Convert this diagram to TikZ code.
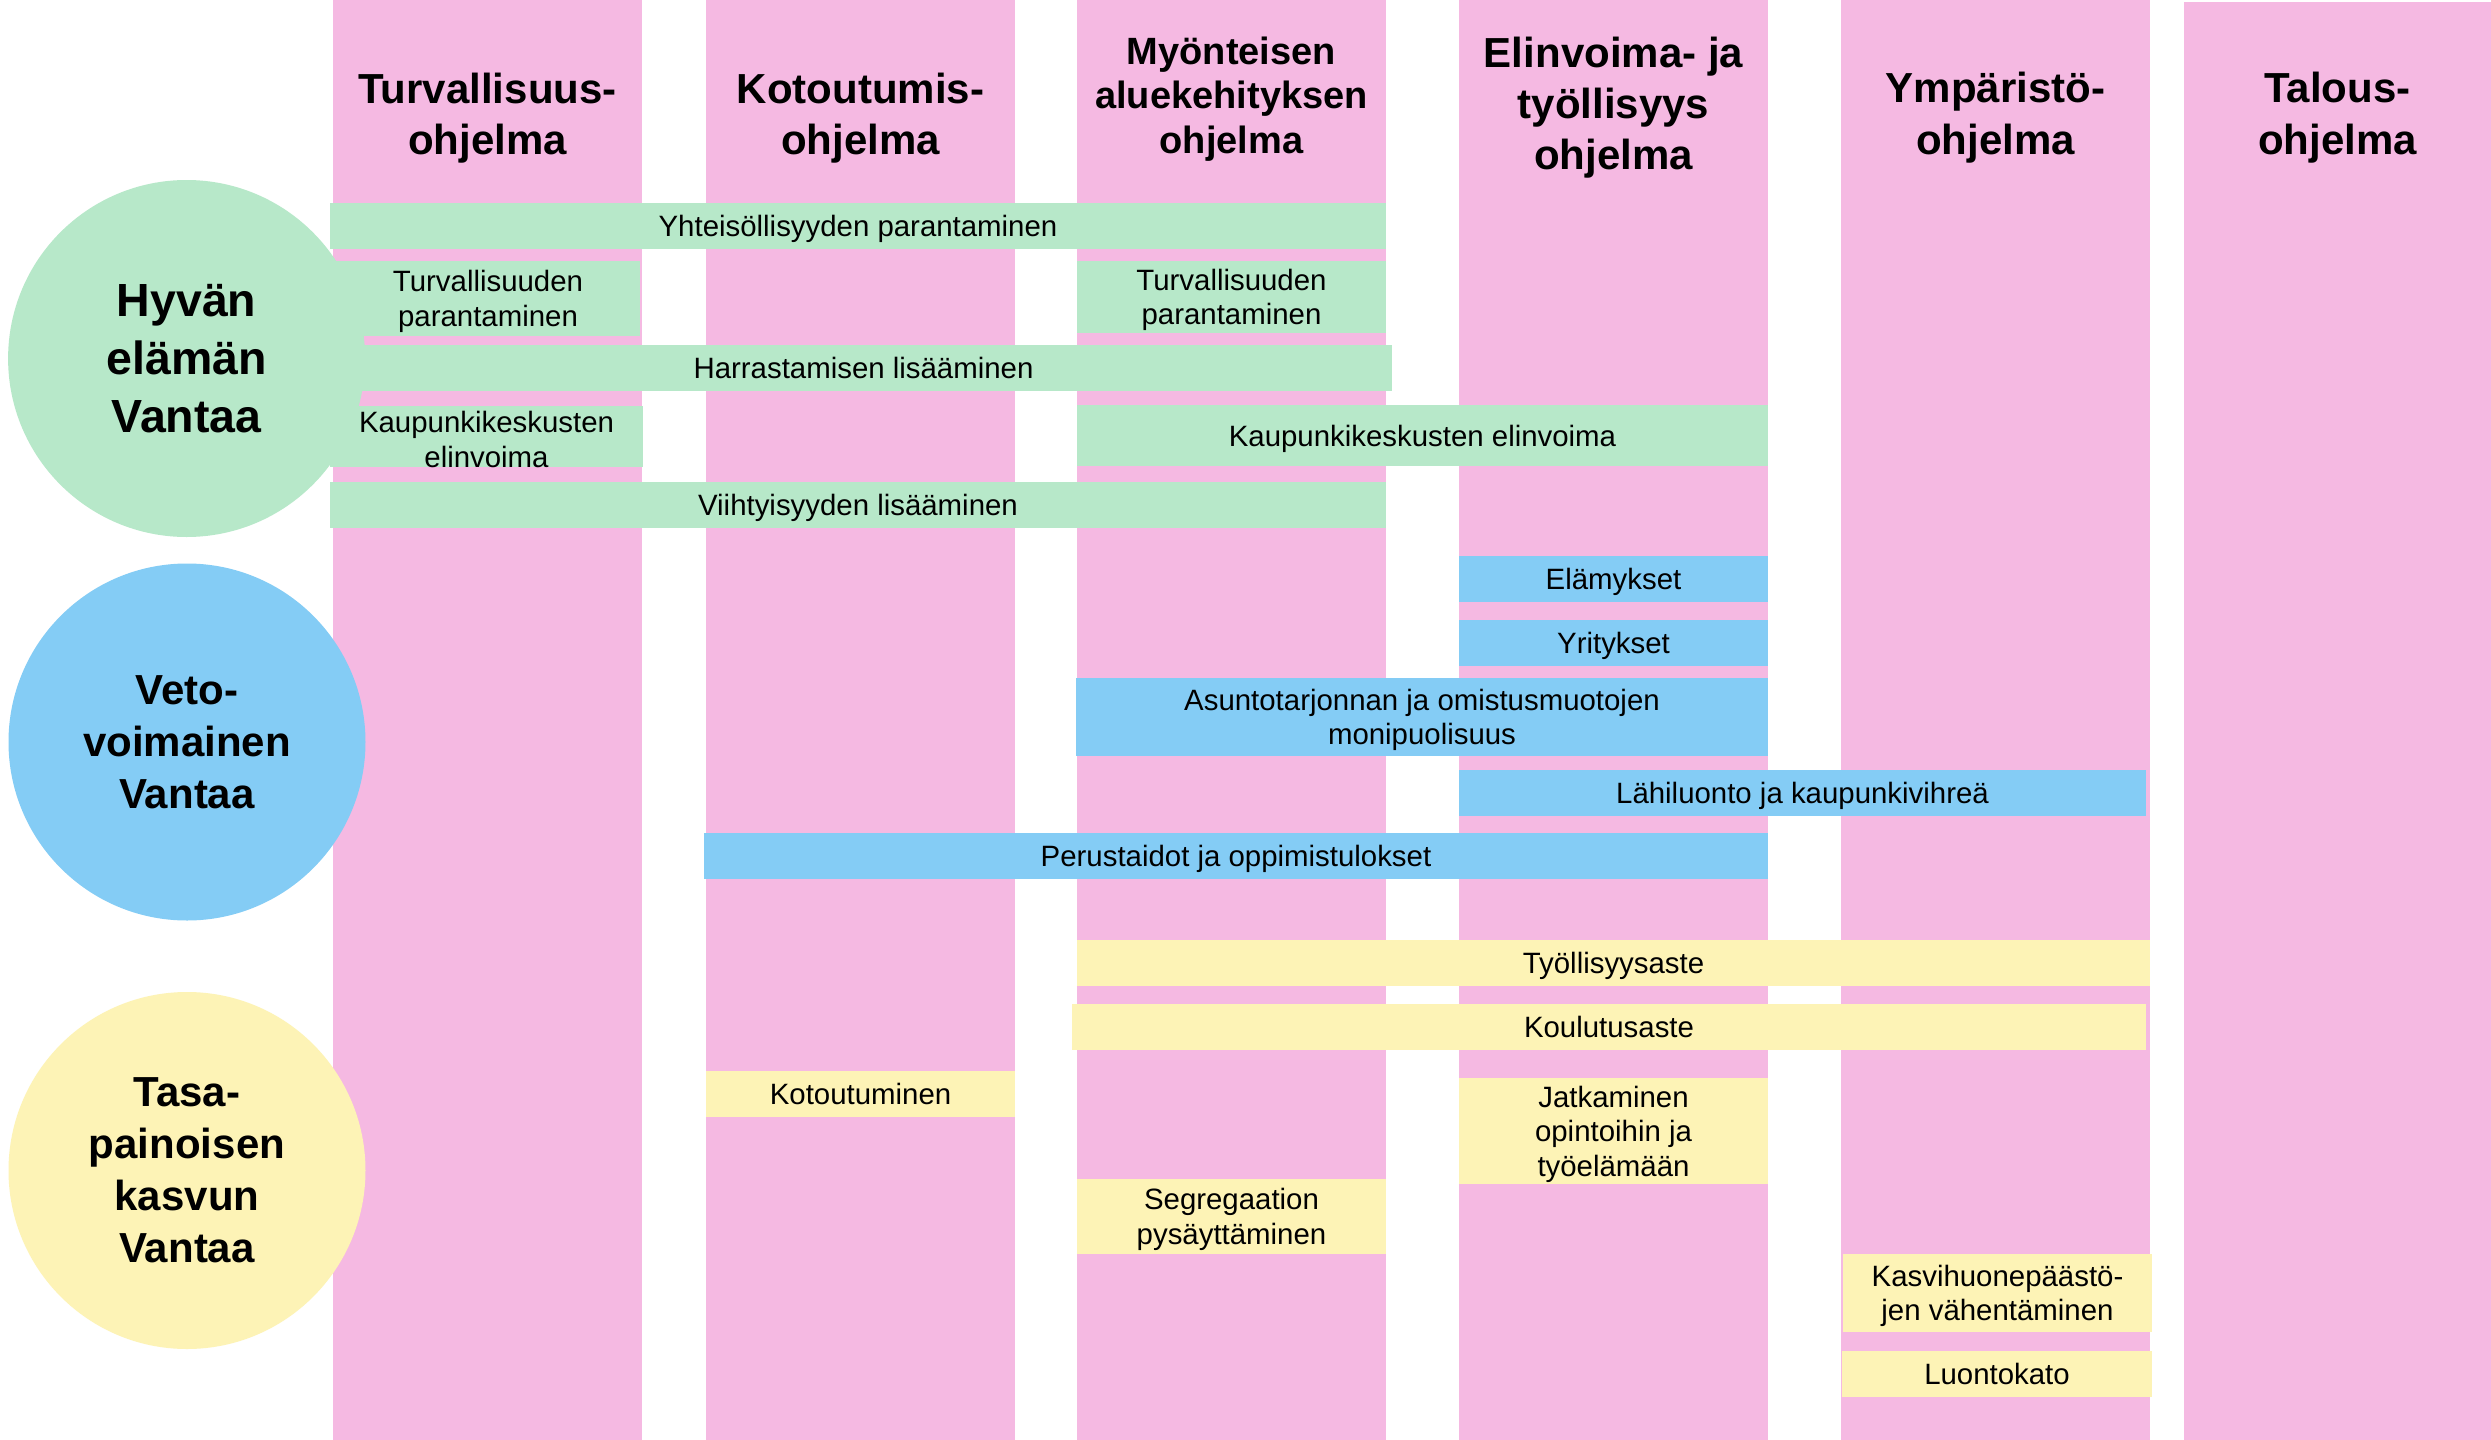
\documentclass[tikz,border=0pt]{standalone}
\usepackage{fontspec}
\setmainfont{Liberation Sans}
\definecolor{pinkc}{RGB}{245,185,226}
\definecolor{greenc}{RGB}{183,232,201}
\definecolor{bluec}{RGB}{132,204,245}
\definecolor{yellowc}{RGB}{253,243,182}
\newcommand{\toplift}{\rule{0pt}{13.6pt}}
\begin{document}
\begin{tikzpicture}[x=0.5pt,y=-0.5pt,
  colbox/.style={fill=pinkc, draw=none, inner sep=0pt, outer sep=0pt, minimum width=154.5pt, minimum height=720pt},
  bar/.style={draw=none, inner sep=0pt, outer sep=0pt, align=center, font=\fontsize{14.7pt}{17.25pt}\selectfont},
  oneline/.style={text height=10.7pt, text depth=0pt},
  gbar/.style={bar, fill=greenc},
  bbar/.style={bar, fill=bluec},
  ybar/.style={bar, fill=yellowc},
  hdr/.style={align=center, inner sep=0pt, font=\fontsize{21pt}{25.75pt}\selectfont\bfseries},
  goal/.style={circle, draw=none, inner sep=0pt, minimum size=178.5pt, align=center, font=\fontsize{21pt}{26pt}\selectfont\bfseries}
]
\useasboundingbox (0,0) rectangle (2491,1440);
\fill[white] (0,0) rectangle (2491,1440);
% columns
\node[colbox] (c1) at (487.5,720) {};
\node[colbox] (c2) at (860.5,720) {};
\node[colbox] (c3) at (1231.5,720) {};
\node[colbox] (c4) at (1613.5,720) {};
\node[colbox] (c5) at (1995.5,720) {};
\node[colbox, minimum width=153.5pt, minimum height=719pt] (c6) at (2337.5,721) {};
% headers
\node[hdr] (h1) at (487.5,118) {Turvallisuus-\\ohjelma};
\node[hdr] (h2) at (860.5,118) {Kotoutumis-\\ohjelma};
\node[hdr, font=\fontsize{19pt}{22.25pt}\selectfont\bfseries] (h3) at (1231.5,98.7) {Myönteisen\\aluekehityksen\\ohjelma};
\node[hdr, font=\fontsize{21pt}{25.5pt}\selectfont\bfseries] (h4) at (1613.5,107.5) {Elinvoima- ja\\työllisyys\\ohjelma};
\node[hdr] (h5) at (1995.5,117.5) {Ympäristö-\\ohjelma};
\node[hdr] (h6) at (2337.5,117.5) {Talous-\\ohjelma};
% green bars
\node[gbar, oneline, minimum width=528pt, minimum height=23pt] (g1) at (858,226) {Yhteisöllisyyden parantaminen};
\node[gbar, minimum width=152pt, minimum height=37.5pt] (g2) at (488,298.5) {\toplift Turvallisuuden\\parantaminen};
\node[gbar, minimum width=154.5pt, minimum height=36pt] (g3) at (1231.5,297) {\toplift Turvallisuuden\\parantaminen};
\node[gbar, oneline, minimum width=528.5pt, minimum height=23pt] (g4) at (863.5,368) {Harrastamisen lisääminen};
\node[gbar, minimum width=156.5pt, minimum height=30.5pt] (g5) at (486.5,436.5) {\toplift Kaupunkikeskusten\\elinvoima};
\node[gbar, oneline, minimum width=345.5pt, minimum height=30.5pt] (g6) at (1422.5,435.5) {Kaupunkikeskusten elinvoima};
\node[gbar, oneline, minimum width=528pt, minimum height=23pt] (g7) at (858,505) {Viihtyisyyden lisääminen};
% blue bars
\node[bbar, oneline, minimum width=154.5pt, minimum height=23pt] (b1) at (1613.5,579) {Elämykset};
\node[bbar, oneline, minimum width=154.5pt, minimum height=23pt] (b2) at (1613.5,643) {Yritykset};
\node[bbar, minimum width=346pt, minimum height=39pt] (b3) at (1422,717) {\toplift Asuntotarjonnan ja omistusmuotojen\\monipuolisuus};
\node[bbar, oneline, minimum width=343.5pt, minimum height=23pt] (b4) at (1802.5,793) {Lähiluonto ja kaupunkivihreä};
\node[bbar, oneline, minimum width=532pt, minimum height=23pt] (b5) at (1236,856) {Perustaidot ja oppimistulokset};
% yellow bars
\node[ybar, oneline, minimum width=536.5pt, minimum height=23pt] (y1) at (1613.5,963) {Työllisyysaste};
\node[ybar, oneline, minimum width=537pt, minimum height=23pt] (y2) at (1609,1027) {Koulutusaste};
\node[ybar, oneline, minimum width=154.5pt, minimum height=23pt] (y3) at (860.5,1094) {Kotoutuminen};
\node[ybar, minimum width=154.5pt, minimum height=53pt] (y4) at (1613.5,1131) {\toplift Jatkaminen\\opintoihin ja\\työelämään};
\node[ybar, minimum width=154.5pt, minimum height=37.5pt] (y5) at (1231.5,1216.5) {\toplift Segregaation\\pysäyttäminen};
\node[ybar, minimum width=154.5pt, minimum height=39pt] (y6) at (1997.5,1293) {\toplift Kasvihuonepäästö-\\jen vähentäminen};
\node[ybar, oneline, minimum width=155pt, minimum height=23pt] (y7) at (1997,1374) {Luontokato};
% goal circles
\node[goal, fill=greenc, font=\fontsize{23.25pt}{29pt}\selectfont\bfseries] (hyva) at (186.6,358.5) {Hyvän\\elämän\\Vantaa};
\node[goal, fill=bluec] (veto) at (187,742) {Veto-\\voimainen\\Vantaa};
\node[goal, fill=yellowc] (tasa) at (187,1170.5) {Tasa-\\painoisen\\kasvun\\Vantaa};
\end{tikzpicture}
\end{document}
